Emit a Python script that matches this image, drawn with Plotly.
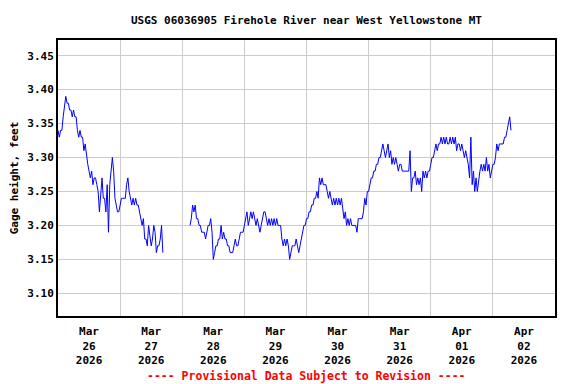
import pandas as pd
import plotly.graph_objects as go

TITLE = "USGS 06036905 Firehole River near West Yellowstone MT"
Y_TITLE = "Gage height, feet"
FOOTER = "---- Provisional Data Subject to Revision ----"

# Gage height (ft), half-hourly readings per day (00:00 ... 23:30), None = no data
mar26 = [3.34, 3.33, 3.34, 3.34, 3.36, 3.38, 3.39, 3.38, 3.38, 3.37,
         3.37, 3.36, 3.37, 3.36, 3.36, 3.34, 3.33, 3.34, 3.33, 3.33,
         3.31, 3.32, 3.30, 3.29, 3.28, 3.27, 3.28, 3.26, 3.27, 3.27,
         3.26, 3.25, 3.22, 3.25, 3.27, 3.24, 3.24, 3.22, 3.26, 3.19,
         3.26, 3.28, 3.30, 3.28, 3.24, 3.23, 3.22, 3.22]
mar27 = [3.23, 3.24, 3.24, 3.24, 3.24, 3.26, 3.27, 3.25, 3.24, 3.23,
         3.24, 3.23, 3.24, 3.23, 3.23, 3.22, 3.21, 3.20, 3.21, 3.18,
         3.18, 3.17, 3.20, 3.18, 3.17, 3.18, 3.20, 3.19, 3.16, 3.17,
         3.17, 3.18, 3.20, 3.16] + [None] * 14
mar28 = [None] * 6 + [
         3.20, 3.21, 3.23, 3.22, 3.23, 3.21, 3.21, 3.20, 3.20, 3.19,
         3.19, 3.19, 3.18, 3.19, 3.20, 3.20, 3.21, 3.19, 3.15, 3.16,
         3.17, 3.17, 3.18, 3.18, 3.20, 3.18, 3.19, 3.18, 3.18, 3.17,
         3.17, 3.16, 3.16, 3.16, 3.17, 3.18, 3.17, 3.17, 3.18, 3.19,
         3.19, 3.19]
mar29 = [3.20, 3.21, 3.22, 3.20, 3.21, 3.22, 3.21, 3.22, 3.21, 3.20,
         3.21, 3.20, 3.19, 3.20, 3.21, 3.22, 3.22, 3.21, 3.20, 3.21,
         3.20, 3.21, 3.20, 3.21, 3.20, 3.21, 3.20, 3.20, 3.20, 3.18,
         3.17, 3.18, 3.17, 3.18, 3.17, 3.15, 3.16, 3.17, 3.17, 3.17,
         3.18, 3.17, 3.16, 3.17, 3.18, 3.19, 3.20, 3.20]
mar30 = [3.21, 3.21, 3.22, 3.22, 3.23, 3.23, 3.24, 3.24, 3.25, 3.24,
         3.27, 3.26, 3.27, 3.26, 3.26, 3.26, 3.25, 3.24, 3.25, 3.24,
         3.23, 3.24, 3.23, 3.24, 3.23, 3.24, 3.23, 3.24, 3.22, 3.21,
         3.22, 3.20, 3.21, 3.20, 3.21, 3.20, 3.20, 3.20, 3.20, 3.19,
         3.21, 3.21, 3.21, 3.21, 3.22, 3.24, 3.23, 3.25]
mar31 = [3.25, 3.26, 3.27, 3.27, 3.28, 3.28, 3.29, 3.29, 3.30, 3.30,
         3.31, 3.32, 3.31, 3.30, 3.31, 3.32, 3.30, 3.31, 3.29, 3.30,
         3.29, 3.30, 3.29, 3.28, 3.29, 3.29, 3.28, 3.28, 3.28, 3.28,
         3.28, 3.28, 3.31, 3.25, 3.27, 3.27, 3.28, 3.26, 3.27, 3.26,
         3.27, 3.25, 3.28, 3.27, 3.28, 3.27, 3.28, 3.28]
apr01 = [3.29, 3.30, 3.30, 3.31, 3.32, 3.31, 3.32, 3.32, 3.33, 3.32,
         3.33, 3.32, 3.33, 3.32, 3.32, 3.33, 3.32, 3.33, 3.32, 3.33,
         3.31, 3.32, 3.32, 3.31, 3.32, 3.31, 3.30, 3.31, 3.30, 3.29,
         3.27, 3.33, 3.26, 3.28, 3.25, 3.27, 3.25, 3.27, 3.28, 3.29,
         3.28, 3.29, 3.28, 3.30, 3.28, 3.29, 3.27, 3.28]
apr02 = [3.29, 3.29, 3.30, 3.32, 3.31, 3.32, 3.32, 3.32, 3.32, 3.33,
         3.33, 3.34, 3.35, 3.36, 3.34] + [None] * 33

tick_dates = ["2026-03-26 12:00", "2026-03-27 12:00", "2026-03-28 12:00",
              "2026-03-29 12:00", "2026-03-30 12:00", "2026-03-31 12:00",
              "2026-04-01 12:00", "2026-04-02 12:00"]
tick_labels = ["Mar<br>26<br>2026", "Mar<br>27<br>2026", "Mar<br>28<br>2026",
               "Mar<br>29<br>2026", "Mar<br>30<br>2026", "Mar<br>31<br>2026",
               "Apr<br>01<br>2026", "Apr<br>02<br>2026"]
y_ticks = [3.10, 3.15, 3.20, 3.25, 3.30, 3.35, 3.40, 3.45]

values = mar26 + mar27 + mar28 + mar29 + mar30 + mar31 + apr01 + apr02
times = pd.date_range("2026-03-26 00:00", periods=len(values), freq="30min")

FONT = "DejaVu Sans Mono"

fig = go.Figure()
fig.add_trace(go.Scatter(x=times, y=values, mode="lines",
                         line=dict(color="#0000FF", width=1),
                         connectgaps=False, hoverinfo="x+y"))

# The page body has an 8px default margin, so the figure is sized to fit.
fig.update_layout(
    width=568, height=376,
    margin=dict(l=50, r=21, t=32, b=68),
    paper_bgcolor="white", plot_bgcolor="white",
    showlegend=False,
    font=dict(family=FONT, size=11, color="black", weight="bold"),
    title=dict(text=TITLE, x=0.5, xref="paper", y=1, yref="container",
               yanchor="top", pad=dict(t=8),
               font=dict(family=FONT, size=11, color="black", weight="bold")),
    xaxis=dict(
        type="date", automargin=False,
        range=["2026-03-26 00:00", "2026-04-03 00:00"],
        tickmode="array", tickvals=tick_dates, ticktext=tick_labels,
        showgrid=False, ticks="", ticklen=0, ticklabelstandoff=4,
        showline=True, linecolor="black", linewidth=2, mirror=True,
        minor=dict(tickmode="linear", tick0="2026-03-26", dtick=86400000,
                   showgrid=True, gridcolor="#cccccc", gridwidth=1, ticks=""),
        zeroline=False,
        tickfont=dict(family=FONT, size=11, color="black", weight="bold"),
    ),
    yaxis=dict(
        automargin=False,
        range=[3.0666, 3.4731],
        tickmode="array", tickvals=y_ticks,
        ticktext=[f"{v:.2f}" for v in y_ticks],
        showgrid=True, gridcolor="#cccccc", gridwidth=1,
        ticks="", showline=True, linecolor="black", linewidth=2, mirror=True,
        zeroline=False,
        tickfont=dict(family=FONT, size=11, color="black", weight="bold"),
        title=dict(text=Y_TITLE, standoff=10,
                   font=dict(family=FONT, size=11, color="black", weight="bold")),
    ),
    annotations=[dict(text=FOOTER, xref="paper", yref="paper", x=0.5, y=0,
                      yshift=-51, yanchor="top", showarrow=False,
                      font=dict(family=FONT, size=11.5, color="#FF0000",
                                weight="bold"))],
)

fig.write_html("out.html")
